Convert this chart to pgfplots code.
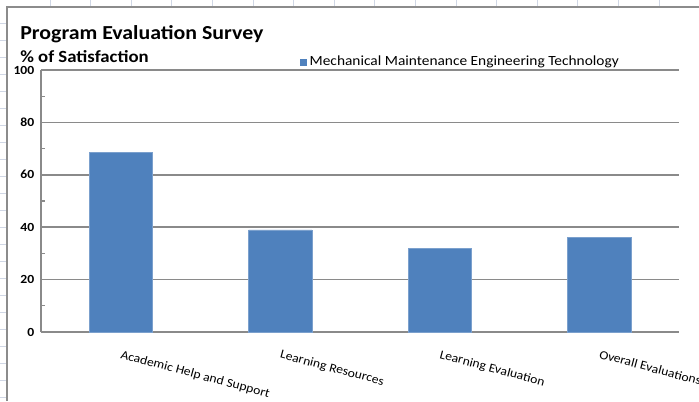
\documentclass[border=0pt]{standalone}
\usepackage{pgfplots}
\pgfplotsset{compat=1.18}
\usepackage{fontspec}
\setmainfont[FakeStretch=1.1]{Carlito}
\definecolor{barblue}{RGB}{79,129,189}
\definecolor{gridgray}{RGB}{138,138,138}
\definecolor{sheetgrid}{RGB}{208,215,229}
\definecolor{framegray}{RGB}{140,140,140}
\begin{document}
\begin{tikzpicture}
\useasboundingbox (0pt,0pt) rectangle (524.25pt,-300.75pt);
% spreadsheet background and chart frame
\begin{scope}[x=0.75pt,y=-0.75pt]
\foreach \k in {0,...,15} { \draw[sheetgrid,line width=0.6pt] ({50+40.6*\k},0) -- ({50+40.6*\k},7); }
\foreach \k in {1,...,23} { \draw[sheetgrid,line width=0.6pt] (0,{6+17*\k}) -- (7,{6+17*\k}); }
\draw[framegray,line width=1.1pt] (7,401) -- (7,7) -- (699,7);
\end{scope}
\begin{axis}[
  at={(30.75pt,-249pt)}, anchor=south west,
  scale only axis, width=478.5pt, height=196.5pt,
  ybar, bar width=0.396,
  xmin=-0.5, xmax=3.5, ymin=0, ymax=100,
  xtick=data,
  xticklabels={Academic Help and Support, Learning Resources, Learning Evaluation, Overall Evaluations},
  ytick={0,20,...,100},
  minor ytick={10,30,...,90},
  ymajorgrids, major grid style={gridgray,line width=1.2pt},
  axis x line*=bottom, axis y line*=left,
  axis line style={gridgray,line width=1.2pt},
  x axis line style={-}, y axis line style={-},
  major tick length=0pt, minor tick length=3pt,
  minor tick style={gridgray,line width=0.8pt},
  tick align=inside,
  /pgf/number format/assume math mode=true,
  yticklabel style={font=\fontsize{9.3}{11}\selectfont\bfseries, xshift=-1.5pt},
  xticklabel style={font=\fontsize{9.3}{11}\selectfont, rotate=-15, anchor=north west, xshift=1pt, yshift=-9pt},
  legend style={draw=none, fill=none, at={(axis description cs:0.405,1.033)}, anchor=west,
    font=\fontsize{10.5}{12}\selectfont, inner sep=0pt, legend cell align=left},
  legend image code/.code={\draw[#1,draw=none] (0pt,-3.6pt) rectangle (5.5pt,1.9pt);},
  clip=false,
]
\addplot[fill=barblue, draw=barblue!75!white, line width=0.4pt] coordinates {(0,68.7) (1,39) (2,32) (3,36)};
\addlegendentry{Mechanical Maintenance Engineering Technology}
\end{axis}
\begin{scope}[x=0.75pt,y=-0.75pt]
\node[anchor=base west, inner sep=0pt, font=\fontsize{14.9}{17}\selectfont\bfseries] at (20,39) {Program Evaluation Survey};
\node[anchor=base west, inner sep=0pt, font=\fontsize{12.8}{15}\selectfont\bfseries] at (20,62) {\% of Satisfaction};
\end{scope}
\end{tikzpicture}
\end{document}
